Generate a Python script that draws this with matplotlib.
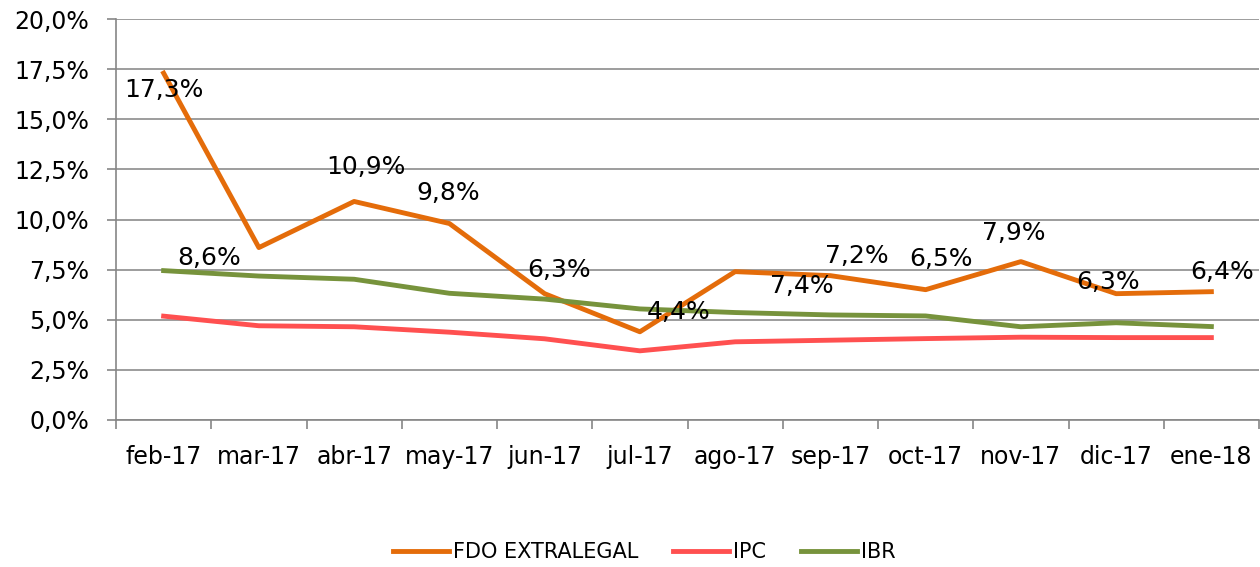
import matplotlib.pyplot as plt
import numpy as np
from matplotlib.ticker import FuncFormatter, MultipleLocator

# datos
meses = ['feb-17', 'mar-17', 'abr-17', 'may-17', 'jun-17', 'jul-17',
         'ago-17', 'sep-17', 'oct-17', 'nov-17', 'dic-17', 'ene-18']
fdo = [17.3, 8.6, 10.9, 9.8, 6.3, 4.4, 7.4, 7.2, 6.5, 7.9, 6.3, 6.4]
ipc = [5.18, 4.70, 4.65, 4.38, 4.05, 3.45, 3.90, 3.98, 4.06, 4.13, 4.11, 4.11]
ibr = [7.45, 7.18, 7.02, 6.32, 6.03, 5.54, 5.36, 5.24, 5.19, 4.65, 4.85, 4.66]

# desplazamiento de las etiquetas (px, positivo = arriba)
offsets = [(0, -17), (-50, -10), (12, 34), (-1, 31), (14, 24), (39, 20),
           (67, -14), (26, 20), (15, 31), (-7, 29), (-8, 12), (11, 20)]

plt.rcParams['font.family'] = ['DejaVu Sans']

fig = plt.figure(figsize=(12.6, 5.67), dpi=100)
ax = fig.add_axes([116 / 1260, 147 / 567, 1143 / 1260, 401 / 567])

x = np.arange(len(meses))
ax.plot(x, fdo, color='#E46C0A', lw=3.5, label='FDO EXTRALEGAL', zorder=3)
ax.plot(x, ipc, color='#FF5050', lw=3.5, label='IPC', zorder=3)
ax.plot(x, ibr, color='#77933C', lw=3.5, label='IBR', zorder=3)

for xi, v, (dx, dy) in zip(x, fdo, offsets):
    ax.annotate(f'{v:.1f}%'.replace('.', ','), (xi, v), xytext=(dx * 0.72, dy * 0.72),
                textcoords='offset points', ha='center', va='center',
                fontsize=18, zorder=4)

ax.set_xlim(-0.5, len(meses) - 0.5)
ax.set_ylim(0, 20)
ax.yaxis.set_major_locator(MultipleLocator(2.5))
ax.yaxis.set_major_formatter(FuncFormatter(lambda v, p: f'{v:.1f}%'.replace('.', ',')))
ax.set_xticks(x)
ax.set_xticklabels(meses)
ax.set_xticks(np.arange(-0.5, len(meses), 1), minor=True)
ax.tick_params(axis='x', which='major', length=0, labelsize=17, pad=18)
ax.tick_params(axis='x', which='minor', length=6.5, color='#868686', width=1.2)
ax.tick_params(axis='y', length=6.5, color='#868686', width=1.2, labelsize=17, pad=13)

ax.grid(axis='y', color='#8c8c8c', lw=1.2)
ax.set_axisbelow(True)
for s in ['top', 'right']:
    ax.spines[s].set_visible(False)
for s in ['left', 'bottom']:
    ax.spines[s].set_color('#868686')
    ax.spines[s].set_linewidth(1.2)

ax.legend(loc='center', bbox_to_anchor=(0.462, -0.329), ncol=3,
          frameon=False, fontsize=15, handlelength=2.7, handletextpad=0.2,
          columnspacing=1.65)

fig.savefig('out.png', dpi=100)
